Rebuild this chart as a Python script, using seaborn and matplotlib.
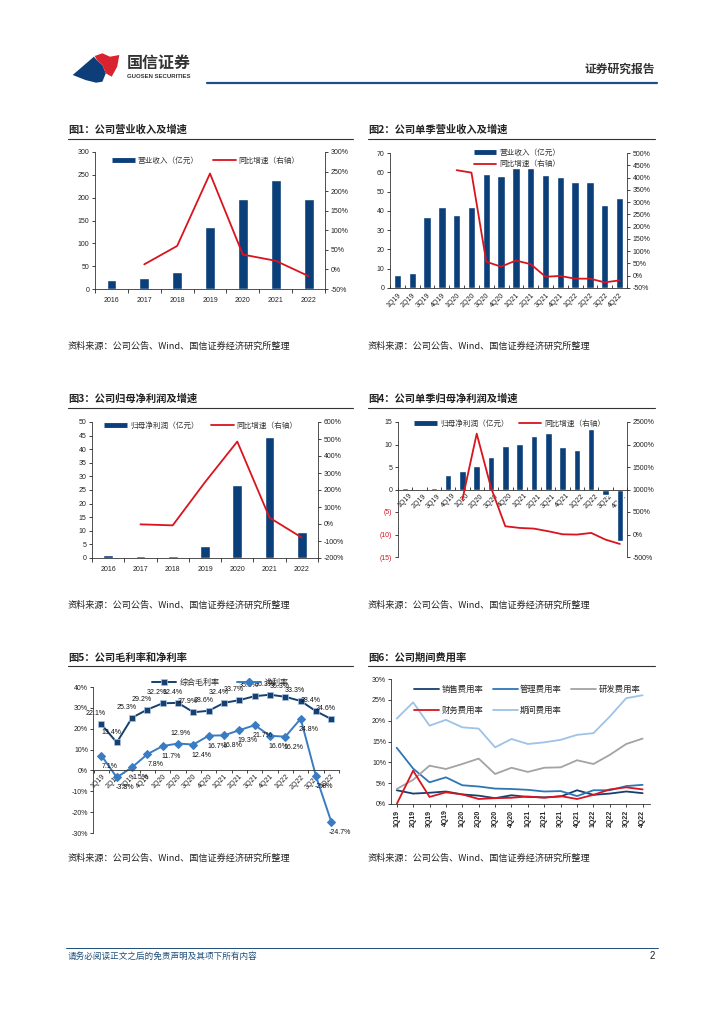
import numpy as np
import pandas as pd
import matplotlib
matplotlib.use("Agg")
import matplotlib.pyplot as plt
import seaborn as sns
from matplotlib.lines import Line2D
from matplotlib.patches import Polygon

# ---- data ----
years = ['2016', '2017', '2018', '2019', '2020', '2021', '2022']
quarters = ['1Q19', '2Q19', '3Q19', '4Q19', '1Q20', '2Q20', '3Q20', '4Q20',
            '1Q21', '2Q21', '3Q21', '4Q21', '1Q22', '2Q22', '3Q22', '4Q22']

rev_year = [20, 23, 38, 135, 196, 239, 198]
rev_year_g = [np.nan, 13, 60, 245, 38, 22, -17]

rev_q = [7, 8, 37, 42, 38, 42, 59, 58, 62, 62, 58.5, 57.5, 55, 55, 43, 46.5]
rev_q_g = [np.nan, np.nan, np.nan, np.nan, 430, 420, 57, 37, 62, 47, -4, -1, -12, -12, -27, -19]

np_year = [1.2, 0.9, 0.9, 4.3, 26.7, 44.5, 9.7]
np_year_g = [np.nan, -2, -8, 246, 485, 37, -80]

np_q = [0.3, 0.15, 0.4, 3.2, 4.2, 5.3, 7.2, 9.7, 10.2, 11.9, 12.6, 9.4, 8.8, 13.5, -1.2, -11.5]
np_q_g = [np.nan, np.nan, np.nan, np.nan, 778, 2241, 1038, 183, 146, 131, 72, 5, -2, 35, -114, -210]

gross_margin = [22.1, 13.4, 25.3, 29.2, 32.2, 32.4, 27.9, 28.6, 32.4, 33.7, 35.6, 36.3, 35.3, 33.3, 28.4, 24.6]
net_margin = [7.1, -3.3, 1.5, 7.8, 11.7, 12.9, 12.4, 16.7, 16.8, 19.3, 21.7, 16.6, 16.2, 24.8, -2.8, -24.7]

sales_rate = [3.3, 2.5, 2.7, 3.0, 2.3, 2.0, 1.4, 2.1, 1.7, 1.6, 1.8, 3.3, 2.2, 2.5, 3.0, 2.6]
admin_rate = [13.5, 8.5, 5.2, 6.4, 4.5, 4.2, 3.7, 3.6, 3.4, 3.0, 3.1, 1.9, 3.3, 3.3, 4.3, 4.6]
rd_rate = [3.6, 5.8, 9.2, 8.4, 9.6, 10.9, 7.2, 8.7, 7.7, 8.7, 8.8, 10.5, 9.6, 11.8, 14.4, 15.7]
fin_rate = [0.0, 8.0, 1.7, 2.8, 2.3, 1.2, 1.4, 1.5, 1.8, 1.5, 1.9, 1.2, 2.2, 3.5, 4.0, 3.5]
period_rate = [20.5, 24.4, 18.8, 20.2, 18.4, 18.1, 13.6, 15.6, 14.4, 14.8, 15.4, 16.6, 17.0, 21.0, 25.4, 26.1]

# ---- style ----
sns.set_theme(style="ticks")
plt.rcParams['font.family'] = ['Liberation Sans', 'Noto Sans CJK SC']
plt.rcParams['axes.unicode_minus'] = False
CJK = ['Noto Sans CJK SC', 'Liberation Sans']
NAVY = '#0B3F7A'
RED = '#D9141E'
TXT = '#222222'
TS = 5  # tick label size

W, H = 724, 1024
fig = plt.figure(figsize=(W / 100, H / 100), dpi=100)


def P(x, y):
    return (x / W, 1 - y / H)


def add_ax(x0, y0, x1, y1):
    return fig.add_axes([x0 / W, 1 - y1 / H, (x1 - x0) / W, (y1 - y0) / H])


def hline(x0, x1, y, color='#333333', lw=0.8):
    fig.add_artist(Line2D([x0 / W, x1 / W], [1 - y / H, 1 - y / H], color=color, lw=lw))


def ftext(x, y, s, **kw):
    fig.text(x / W, 1 - y / H, s, **kw)


def spines(ax, show):
    for k, s in ax.spines.items():
        s.set_visible(k in show)
        s.set_linewidth(0.6)
        s.set_color('#333333')


pct = matplotlib.ticker.FuncFormatter(lambda v, p: f'{v:.0f}%')

# ---- header ----
fig.add_artist(Polygon([P(72.7, 75), P(93.9, 56.7), P(97.3, 60.7), P(102.4, 65), P(105.8, 73.3),
                        P(102.4, 81.7), P(96, 82.7), P(85.4, 80)], closed=True,
                       transform=fig.transFigure, color='#0E3E7A', lw=0))
fig.add_artist(Polygon([P(94.7, 56), P(102.4, 53.3), P(110, 56.7), P(119.3, 55), P(117.2, 66.7),
                        P(111.7, 76.7), P(105.8, 73.3), P(102.4, 65), P(97.3, 60.7)], closed=True,
                       transform=fig.transFigure, color='#D9232E', lw=0))
ftext(127, 63, '国信证券', family=CJK, fontsize=11.5, color='#333333', va='center', weight='bold')
ftext(127, 76.5, 'GUOSEN SECURITIES', fontsize=4.3, color='#333333', va='center', weight='bold')
ftext(655, 69, '证券研究报告', family=CJK, fontsize=8.5, color='#333333', va='center', ha='right', weight='bold')
hline(207, 657, 82.5, color='#1F4E8C', lw=1.6)

# ---- footer ----
hline(66, 658, 948, color='#1F4E79', lw=0.7)
ftext(68, 956, '请务必阅读正文之后的免责声明及其项下所有内容', family=CJK, fontsize=6.2,
      color='#1F4E79', va='center', style='italic')
ftext(655, 956, '2', fontsize=7, color=TXT, va='center', ha='right')

# ---- titles and sources ----
for x0, x1, y_t, y_l, t in [
        (68, 353, 130, 139, '图1：公司营业收入及增速'),
        (368, 655, 130, 139, '图2：公司单季营业收入及增速'),
        (68, 353, 399, 408, '图3：公司归母净利润及增速'),
        (368, 655, 399, 408, '图4：公司单季归母净利润及增速'),
        (68, 353, 658, 666, '图5：公司毛利率和净利率'),
        (368, 655, 658, 666, '图6：公司期间费用率')]:
    ftext(x0, y_t, t, family=CJK, fontsize=7.4, color=TXT, va='center', weight='bold')
    hline(x0, x1, y_l, color='#333333', lw=0.8)

for x0, y in [(68, 346), (368, 346), (68, 605), (368, 605), (68, 858), (368, 858)]:
    ftext(x0, y, '资料来源：公司公告、Wind、国信证券经济研究所整理', family=CJK, fontsize=6.6,
          color=TXT, va='center')


def bar_line_chart(box, cats, bars, growth, ylim, yticks, g_lim, g_ticks, legend_kw, bw):
    ax = add_ax(*box)
    n = len(cats)
    sns.barplot(x=cats, y=bars, color=NAVY, saturation=1, width=bw, ax=ax, errorbar=None)
    ax.set_xlim(-0.5, n - 0.5)
    ax.set_ylim(*ylim)
    ax.set_yticks(yticks)
    ax.set_xlabel('')
    ax.set_ylabel('')
    ax2 = ax.twinx()
    g = pd.Series(growth, dtype=float)
    m = g.notna().values
    sns.lineplot(x=np.arange(n)[m], y=g.values[m], color=RED, lw=1.3, ax=ax2)
    ax2.set_ylim(*g_lim)
    ax2.set_yticks(g_ticks)
    ax2.yaxis.set_major_formatter(pct)
    ax2.set_xlim(-0.5, n - 0.5)
    spines(ax, ['left', 'bottom'])
    spines(ax2, ['right'])
    ax.tick_params(axis='y', labelsize=TS, length=2, width=0.6, pad=2, colors=TXT)
    ax2.tick_params(axis='y', labelsize=TS, length=2, width=0.6, pad=2, colors=TXT)
    ax.set_xticks(np.arange(-0.5, n, 1), minor=True)
    handles = [Line2D([], [], color=NAVY, lw=3.5, solid_capstyle='butt'),
               Line2D([], [], color=RED, lw=1.3)]
    leg = ax2.legend(handles, legend_kw.pop('labels'), frameon=False, bbox_transform=fig.transFigure,
                     borderpad=0, borderaxespad=0, handletextpad=0.4, prop={'family': CJK, 'size': 5.5},
                     **legend_kw)
    for t in leg.get_texts():
        t.set_color('#333333')
    return ax, ax2


# ---- chart 1 ----
ax, ax2 = bar_line_chart((95, 152, 325, 289), years, rev_year, rev_year_g, (0, 300), range(0, 301, 50),
                         (-50, 300), range(-50, 301, 50),
                         dict(labels=['营业收入（亿元）', '同比增速（右轴）'], loc='center left',
                              bbox_to_anchor=P(112, 161), ncol=2, handlelength=3, columnspacing=1.8), 0.3)
ax.tick_params(axis='x', which='major', length=0, labelsize=TS, pad=6, colors=TXT)
ax.tick_params(axis='x', which='minor', length=3, width=0.6, direction='out', bottom=True)

# ---- chart 2 ----
ax, ax2 = bar_line_chart((390, 153, 627, 288), quarters, rev_q, rev_q_g, (0, 70), range(0, 71, 10),
                         (-50, 500), range(-50, 501, 50),
                         dict(labels=['营业收入（亿元）', '同比增速（右轴）'], loc='center left',
                              bbox_to_anchor=P(474, 158.5), ncol=1, handlelength=2.9, labelspacing=0.45), 0.5)
ax.tick_params(axis='x', which='major', length=0, labelsize=TS, pad=3, colors=TXT)
ax.tick_params(axis='x', which='minor', length=2.5, width=0.6, direction='in', bottom=True)
plt.setp(ax.get_xticklabels(), rotation=45, ha='right', rotation_mode='anchor')

# ---- chart 3 ----
ax, ax2 = bar_line_chart((92, 422, 318, 558), years, np_year, np_year_g, (0, 50), range(0, 51, 5),
                         (-200, 600), range(-200, 601, 100),
                         dict(labels=['归母净利润（亿元）', '同比增速（右轴）'], loc='center left',
                              bbox_to_anchor=P(104, 426), ncol=2, handlelength=3, columnspacing=1.6), 0.3)
ax.tick_params(axis='x', which='major', length=0, labelsize=TS, pad=6, colors=TXT)
ax.tick_params(axis='x', which='minor', length=3, width=0.6, direction='out', bottom=True)

# ---- chart 4 ----
ax, ax2 = bar_line_chart((398, 422, 627, 557), quarters, np_q, np_q_g, (-15, 15), range(-15, 16, 5),
                         (-500, 2500), range(-500, 2501, 500),
                         dict(labels=['归母净利润（亿元）', '同比增速（右轴）'], loc='center left',
                              bbox_to_anchor=P(414, 424), ncol=2, handlelength=3, columnspacing=1.3), 0.45)
ticks4 = list(range(-15, 16, 5))
ax.set_yticks(ticks4, [f'({-v})' if v < 0 else str(v) for v in ticks4])
for lbl, v in zip(ax.get_yticklabels(), ticks4):
    if v < 0:
        lbl.set_color(RED)
ax.spines['bottom'].set_position(('data', 0))
ax.tick_params(axis='x', which='major', length=0, labelsize=TS, pad=2, colors=TXT)
ax.tick_params(axis='x', which='minor', length=2.5, width=0.6, direction='in', bottom=True)
plt.setp(ax.get_xticklabels(), rotation=45, ha='center')

# ---- chart 5 ----
ax = add_ax(93, 687, 339, 833)
pos = np.arange(len(quarters))
C_GM = '#17406F'
C_NM = '#3A7CC3'
sns.lineplot(x=pos, y=gross_margin, color=C_GM, lw=1.4, marker='s', markersize=5,
             markeredgecolor='#A9C4E8', markeredgewidth=0.5, ax=ax)
sns.lineplot(x=pos, y=net_margin, color=C_NM, lw=1.4, marker='D', markersize=4.2,
             markeredgecolor=C_NM, ax=ax)
ax.set_xlim(-0.55, 15.45)
ax.set_ylim(-30, 40)
ax.set_yticks(range(-30, 41, 10))
ax.yaxis.set_major_formatter(pct)
spines(ax, ['left', 'bottom'])
ax.spines['bottom'].set_position(('data', 0))
ax.set_xticks(pos, quarters)
ax.set_xticks(np.arange(-0.5, 16, 1), minor=True)
ax.tick_params(axis='y', labelsize=TS, length=2, width=0.6, pad=1.5, colors=TXT)
ax.tick_params(axis='x', which='major', length=0, labelsize=TS, pad=2, colors=TXT)
ax.tick_params(axis='x', which='minor', length=2, width=0.6, direction='out', bottom=True)
plt.setp(ax.get_xticklabels(), rotation=45, ha='right', rotation_mode='anchor')
for i, v in enumerate(gross_margin):
    ax.annotate(f'{v:.1f}%', (i, v), xytext=(-4, 5), textcoords='offset points', ha='center',
                va='bottom', fontsize=5, color='#111111')
for i, v in enumerate(net_margin):
    dy = 5 if i == 5 else -5
    ax.annotate(f'{v:.1f}%', (i, v), xytext=(6 if i != 5 else 2, dy), textcoords='offset points',
                ha='center', va='bottom' if dy > 0 else 'top', fontsize=5, color='#111111')
h5 = [Line2D([], [], color=C_GM, lw=1.4, marker='s', markersize=5, markeredgecolor='#A9C4E8',
             markeredgewidth=0.5),
      Line2D([], [], color=C_NM, lw=1.4, marker='D', markersize=4.2)]
ax.legend(h5, ['综合毛利率', '净利率'], frameon=False, loc='center left', bbox_to_anchor=P(152, 682),
          bbox_transform=fig.transFigure, ncol=2, borderpad=0, borderaxespad=0, handlelength=3,
          handletextpad=0.4, columnspacing=2.2, prop={'family': CJK, 'size': 5.8})

# ---- chart 6 ----
ax = add_ax(391, 679, 650, 804)
names6 = ['销售费用率', '管理费用率', '研发费用率', '财务费用率', '期间费用率']
pal6 = {'销售费用率': '#173F6E', '管理费用率': '#2E75B6', '研发费用率': '#A3A3A3',
        '财务费用率': '#D9141E', '期间费用率': '#9DC3E6'}
df6 = pd.DataFrame({'pos': np.tile(pos, 5),
                    'series': np.repeat(names6, len(quarters)),
                    'val': sales_rate + admin_rate + rd_rate + fin_rate + period_rate})
sns.lineplot(data=df6, x='pos', y='val', hue='series', hue_order=names6, palette=pal6,
             lw=1.3, ax=ax, legend=False)
ax.set_xlim(-0.35, 15.45)
ax.set_ylim(0, 30)
ax.set_yticks(range(0, 31, 5))
ax.yaxis.set_major_formatter(pct)
ax.set_xlabel('')
ax.set_ylabel('')
spines(ax, ['left', 'bottom'])
ax.set_xticks(pos, quarters)
ax.tick_params(axis='y', labelsize=TS, length=2, width=0.6, pad=1.5, colors=TXT)
ax.tick_params(axis='x', labelsize=TS, length=2, width=0.6, pad=2, colors=TXT)
plt.setp(ax.get_xticklabels(), rotation=90, weight='bold')
order6 = ['销售费用率', '财务费用率', '管理费用率', '期间费用率', '研发费用率']
h6 = [Line2D([], [], color=pal6[k], lw=1.3) for k in order6]
ax.legend(h6, order6, frameon=False, loc='upper left', bbox_to_anchor=P(414, 685),
          bbox_transform=fig.transFigure, ncol=3, borderpad=0, borderaxespad=0, handlelength=3,
          handletextpad=0.3, columnspacing=1.1, labelspacing=1.4, prop={'family': CJK, 'size': 6})

fig.savefig('out.png', dpi=100)
